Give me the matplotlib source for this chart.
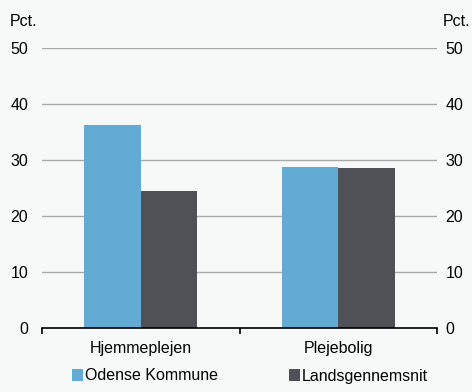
import numpy as np
import matplotlib.pyplot as plt

categories = ['Hjemmeplejen', 'Plejebolig']
odense = [36.3, 28.8]
lands = [24.5, 28.6]
series_names = ['Odense Kommune', 'Landsgennemsnit']
yticks = [0, 10, 20, 30, 40, 50]

plt.rcParams['font.family'] = ['Liberation Sans', 'DejaVu Sans']
bg = '#f7f9f9'
blue = '#63aad5'
dark = '#505156'
fs = 11.5

fig = plt.figure(figsize=(4.72, 3.92), dpi=100, facecolor=bg)
ax = fig.add_axes([0.089, 0.163, 0.837, 0.715], facecolor=bg)

x = np.arange(len(categories))
w = 0.285
ax.bar(x - w/2, odense, w, color=blue, label=series_names[0], zorder=3)
ax.bar(x + w/2, lands, w, color=dark, label=series_names[1], zorder=3)

ax.set_xlim(-0.5, 1.5)
ax.set_ylim(0, 50)
ax.set_yticks(yticks)
for y in yticks[1:]:
    ax.axhline(y, color='#a8a8a8', linewidth=1.0, zorder=1)

for s in ['top', 'left', 'right']:
    ax.spines[s].set_visible(False)
ax.spines['bottom'].set_linewidth(1.2)
ax.spines['bottom'].set_zorder(4)

ax.set_xticks([-0.5, 0.5, 1.5])
ax.set_xticklabels([])
ax.set_xticks(x, minor=True)
ax.set_xticklabels(categories, minor=True, fontsize=fs)
ax.tick_params(axis='x', which='major', length=4, width=1.2, direction='out')
ax.tick_params(axis='x', which='minor', length=0, pad=9)
ax.tick_params(axis='y', length=0, labelsize=fs, pad=10)

# right hand axis labels
ax2 = ax.twinx()
ax2.set_ylim(0, 50)
ax2.set_yticks(yticks)
ax2.tick_params(axis='y', length=0, labelsize=fs, pad=6)
for s in ax2.spines.values():
    s.set_visible(False)

fig.text(10/472, 1 - 22/392, 'Pct.', fontsize=fs, va='center', ha='left')
fig.text(470/472, 1 - 22/392, 'Pct.', fontsize=fs, va='center', ha='right')

h, l = ax.get_legend_handles_labels()
fig.legend(h, l, loc='center', bbox_to_anchor=(0.53, 1 - 376/392), ncol=2,
           frameon=False, fontsize=fs, handlelength=0.7, handleheight=0.7,
           handletextpad=0.12, columnspacing=4.45, borderaxespad=0)

fig.savefig('out.png', dpi=100, facecolor=bg)
